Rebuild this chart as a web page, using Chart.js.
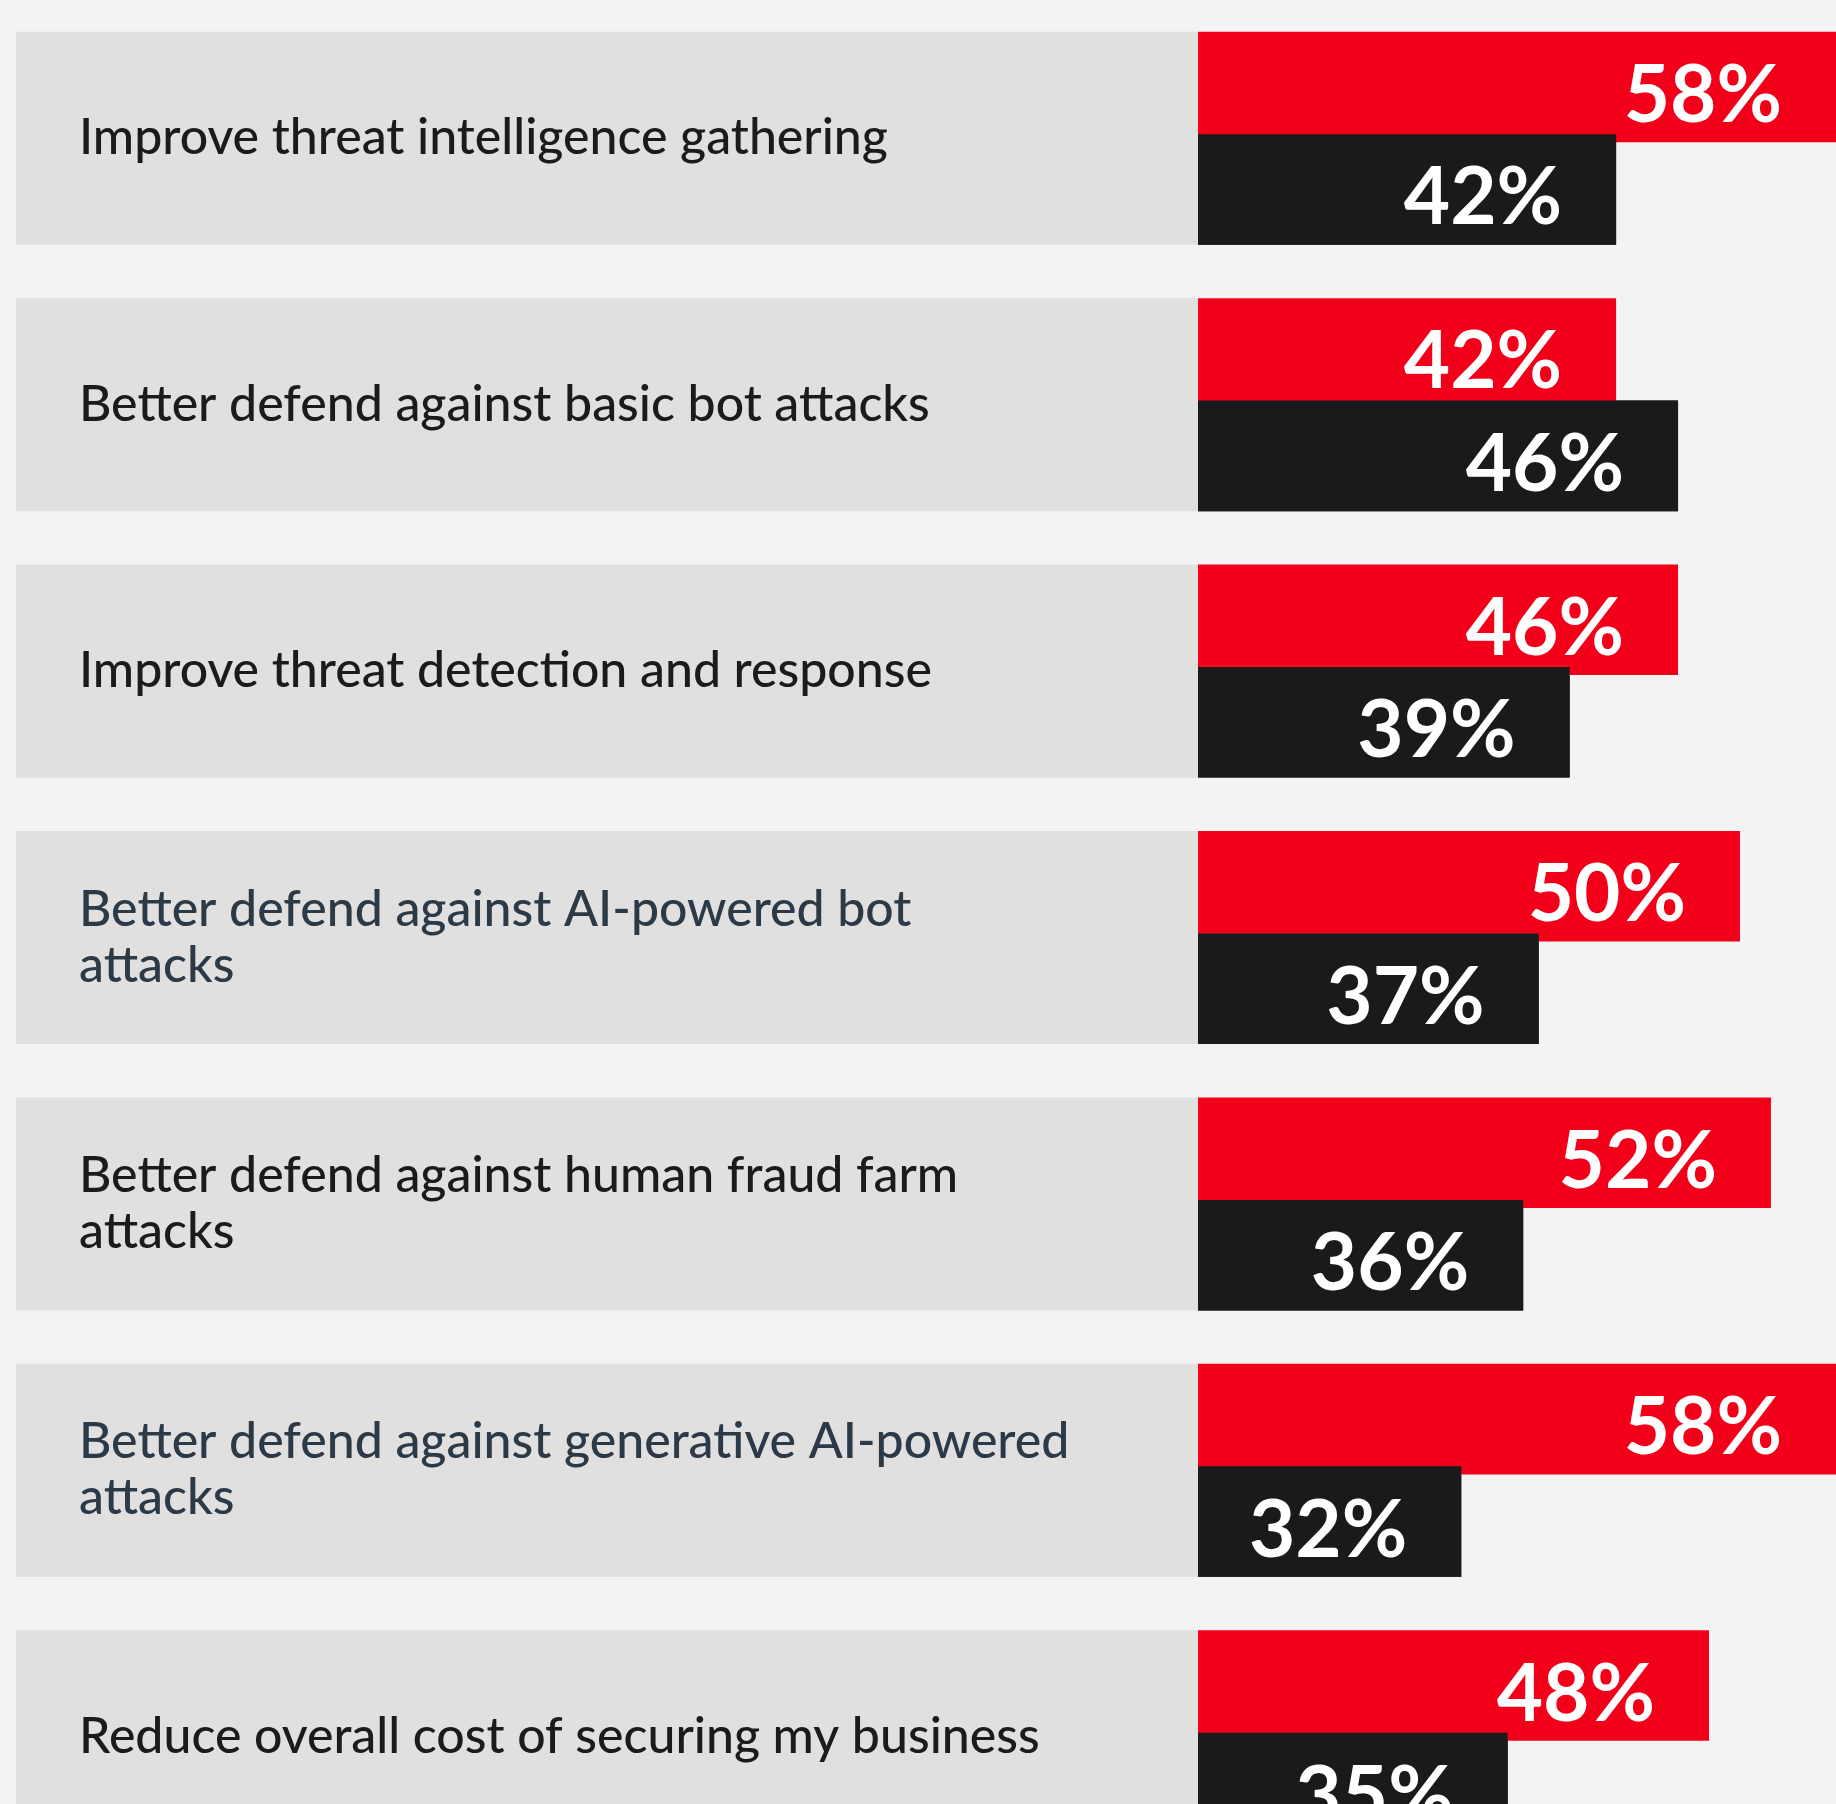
<!DOCTYPE html>
<html>
<head>
<meta charset="utf-8">
<title>Bot defence priorities</title>
<script src="https://cdn.jsdelivr.net/npm/chart.js@4.4.1/dist/chart.umd.min.js"></script>
<style>
  html, body { margin: 0; padding: 0; background: #f3f3f3; overflow: hidden; }
  #wrap { width: 1836px; height: 1804px; overflow: hidden; }
  canvas { display: block; }
</style>
</head>
<body>
<div id="wrap"><canvas id="chart" width="1836" height="1870"></canvas></div>
<script>
// === DATA ===
// Category labels, split into lines the way the original wraps them
var categories = [
  'Improve threat intelligence gathering',
  'Better defend against basic bot attacks',
  'Improve threat detection and response',
  ['Better defend against AI-powered bot', 'attacks'],
  ['Better defend against human fraud farm', 'attacks'],
  ['Better defend against generative AI-powered', 'attacks'],
  'Reduce overall cost of securing my business'
];
var redValues = [58, 42, 46, 50, 52, 58, 48];
var blackValues = [42, 46, 39, 37, 36, 32, 35];

// === STYLE ===
var RED = '#f20019';
var BLACK = '#1a1a1c';
var PANEL = '#e0e0e0';
var labelColors = ['#1b1b1d', '#1b1b1d', '#1b1b1d', '#2c3a47', '#1b1b1d', '#2c3a47', '#1b1b1d'];

// Grey label panel behind each category, spanning both bars
var rowPanels = {
  id: 'rowPanels',
  beforeDraw: function(chart) {
    var ctx = chart.ctx;
    var red = chart.getDatasetMeta(0).data;
    var black = chart.getDatasetMeta(1).data;
    ctx.save();
    ctx.fillStyle = PANEL;
    red.forEach(function(el, i) {
      var top = el.y - el.height / 2;
      var bottom = black[i].y + black[i].height / 2;
      ctx.fillRect(16, top, chart.chartArea.left - 16, bottom - top);
    });
    ctx.restore();
  }
};

// Black bars sit over the red ones, then the white % labels
var valueLabels = {
  id: 'valueLabels',
  afterDatasetsDraw: function(chart) {
    var ctx = chart.ctx;
    var area = chart.chartArea;
    ctx.save();
    ctx.beginPath();
    ctx.rect(area.left, area.top, area.right - area.left, area.bottom - area.top);
    ctx.clip();
    chart.getDatasetMeta(1).data.forEach(function(el) { el.draw(ctx, area); });

    ctx.font = '700 80px Lato';
    ctx.fillStyle = '#ffffff';
    ctx.textAlign = 'right';
    ctx.textBaseline = 'alphabetic';
    chart.data.datasets.forEach(function(ds, d) {
      chart.getDatasetMeta(d).data.forEach(function(el, i) {
        var end = Math.min(el.x, area.right);
        ctx.fillText(ds.data[i] + '%', end - 54, el.y + 35);
      });
    });
    ctx.restore();
  }
};

new Chart(document.getElementById('chart'), {
  type: 'bar',
  data: {
    labels: categories,
    datasets: [
      {
        label: 'Red',
        data: redValues,
        backgroundColor: RED,
        borderWidth: 0,
        categoryPercentage: 0.769,
        barPercentage: 1.079
      },
      {
        label: 'Black',
        data: blackValues,
        backgroundColor: BLACK,
        borderWidth: 0,
        categoryPercentage: 0.769,
        barPercentage: 1.079
      }
    ]
  },
  options: {
    indexAxis: 'y',
    responsive: false,
    animation: false,
    devicePixelRatio: 1,
    layout: { padding: { top: 5, left: 79, right: 0, bottom: 0 } },
    plugins: {
      legend: { display: false },
      tooltip: { enabled: false }
    },
    scales: {
      x: {
        type: 'linear',
        min: 15,
        max: 56.2,
        display: false
      },
      y: {
        grid: { display: false },
        border: { display: false },
        ticks: {
          autoSkip: false,
          crossAlign: 'far',
          padding: 0,
          color: function(c) { return labelColors[c.index]; },
          font: { family: 'Lato', size: 50, weight: '500', lineHeight: 1.12 }
        },
        afterFit: function(scale) {
          scale.width = 1119;
          scale.paddingTop = 0;
          scale.paddingBottom = 0;
        }
      }
    }
  },
  plugins: [rowPanels, valueLabels]
});
</script>
</body>
</html>
